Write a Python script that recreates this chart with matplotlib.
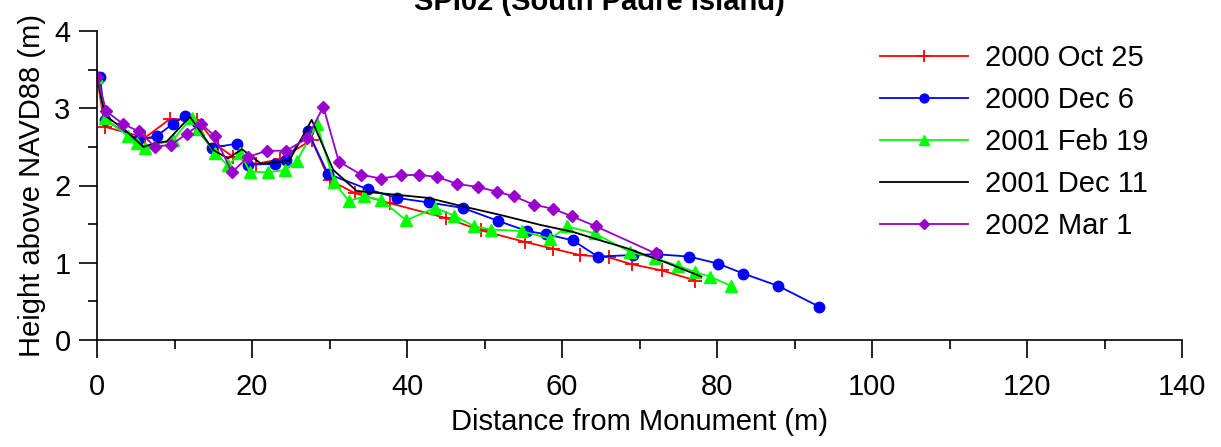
import matplotlib
matplotlib.use("Agg")
import matplotlib.pyplot as plt
from matplotlib.ticker import MultipleLocator

plt.rcParams['font.family'] = ['Liberation Sans', 'DejaVu Sans']

# perfis de praia (distancia, altura)
oct00_x = [0, 1.0, 6.2, 9.4, 12.9, 15.6, 17.6, 20.5, 23.6, 27.7, 30.0, 33.3, 37.8,
           45.0, 49.5, 55.2, 58.9, 62.3, 66.0, 69.0, 72.9, 77.2]
oct00_y = [3.40, 2.76, 2.62, 2.86, 2.85, 2.51, 2.37, 2.28, 2.34, 2.59, 2.07, 1.90, 1.77,
           1.58, 1.42, 1.27, 1.18, 1.10, 1.07, 0.98, 0.90, 0.77]

dec00_x = [0.4, 1.0, 5.3, 7.7, 9.8, 11.4, 14.8, 18.0, 19.5, 23.0, 24.4, 27.2, 29.8,
           35.0, 38.7, 42.8, 47.2, 51.8, 55.5, 57.9, 61.4, 64.6, 69.2, 72.2, 76.4,
           80.1, 83.4, 87.9, 93.2]
dec00_y = [3.40, 2.85, 2.59, 2.64, 2.80, 2.90, 2.49, 2.54, 2.27, 2.28, 2.33, 2.70, 2.15,
           1.95, 1.84, 1.78, 1.71, 1.54, 1.41, 1.37, 1.29, 1.08, 1.10, 1.11, 1.08,
           0.99, 0.86, 0.70, 0.43]

feb01_x = [0, 1.0, 4.0, 5.1, 6.2, 9.8, 12.2, 13.0, 15.2, 16.9, 18.5, 19.7, 22.1, 24.3,
           25.8, 28.4, 30.6, 32.5, 34.5, 36.7, 39.9, 43.6, 46.1, 48.7, 50.9, 54.9,
           58.5, 60.7, 64.2, 68.8, 72.0, 75.0, 77.2, 79.1, 81.8]
feb01_y = [3.40, 2.87, 2.64, 2.55, 2.49, 2.59, 2.88, 2.73, 2.42, 2.26, 2.42, 2.18, 2.17, 2.20,
           2.32, 2.79, 2.04, 1.80, 1.86, 1.81, 1.55, 1.71, 1.61, 1.47, 1.43, 1.41,
           1.31, 1.47, 1.38, 1.14, 1.06, 0.96, 0.88, 0.82, 0.70]

dec01_x = [0, 1.0, 3.6, 6.0, 7.5, 9.0, 12.0, 15.0, 16.9, 18.7, 21.2, 24.8, 27.7, 30.5,
           33.5, 42.7, 47.2, 52.0, 57.2, 61.4, 64.9, 68.3, 73.5, 78.0]
dec01_y = [3.41, 2.91, 2.72, 2.50, 2.55, 2.57, 2.89, 2.46, 2.35, 2.47, 2.28, 2.32, 2.85, 2.20,
           1.93, 1.84, 1.73, 1.62, 1.49, 1.40, 1.29, 1.19, 1.00, 0.82]

mar02_x = [0, 1.2, 3.3, 5.4, 7.5, 9.6, 11.6, 13.4, 15.2, 17.4, 19.5, 21.9, 24.4, 27.1,
           29.2, 31.2, 34.1, 36.6, 39.2, 41.5, 43.9, 46.5, 49.2, 51.6, 53.8, 56.4,
           58.8, 61.3, 64.4, 72.1]
mar02_y = [3.41, 2.96, 2.80, 2.70, 2.50, 2.53, 2.67, 2.80, 2.64, 2.17, 2.37, 2.45, 2.45, 2.61,
           3.02, 2.31, 2.14, 2.09, 2.13, 2.14, 2.11, 2.02, 1.98, 1.92, 1.86, 1.75,
           1.70, 1.60, 1.47, 1.12]

fs = 21

fig = plt.figure(figsize=(12.21, 4.47), dpi=100)
ax = fig.add_axes([97/1221, 107/447, 1085/1221, 309/447])

ax.plot(oct00_x, oct00_y, '-', color='#ff0000', lw=1.3, marker='+', ms=10, mew=1.3, label='2000 Oct 25')
ax.plot(dec00_x, dec00_y, '-', color='#0000ff', lw=1.3, marker='o', ms=7.5, label='2000 Dec 6')
ax.plot(feb01_x, feb01_y, '-', color='#00ff00', lw=1.3, marker='^', ms=8, label='2001 Feb 19')
ax.plot(dec01_x, dec01_y, '-', color='black', lw=1.3, label='2001 Dec 11')
ax.plot(mar02_x, mar02_y, '-', color='#9900cc', lw=1.3, marker='D', ms=6.5, label='2002 Mar 1')

ax.set_xlim(0, 140)
ax.set_ylim(0, 4)
ax.xaxis.set_major_locator(MultipleLocator(20))
ax.xaxis.set_minor_locator(MultipleLocator(10))
ax.yaxis.set_major_locator(MultipleLocator(1))
ax.yaxis.set_minor_locator(MultipleLocator(0.5))
ax.spines['top'].set_visible(False)
ax.spines['right'].set_visible(False)
for s in ['left', 'bottom']:
    ax.spines[s].set_linewidth(1.2)
ax.tick_params(which='major', direction='out', length=13, width=1.2, labelsize=fs)
ax.tick_params(which='minor', direction='out', length=6.5, width=1.2)
ax.tick_params(axis='x', which='major', pad=11)
ax.tick_params(axis='y', which='major', pad=6)

ax.set_xlabel('Distance from Monument (m)', fontsize=fs, labelpad=5)
ax.set_ylabel('Height above NAVD88 (m)', fontsize=fs, labelpad=6)

fig.text(0.491, 1 - 10/447, 'SPI02 (South Padre Island)', fontsize=fs, fontweight='bold',
         ha='center', va='baseline')

leg = ax.legend(loc='upper left', bbox_to_anchor=(880/1221, 1 - 44/447), bbox_transform=fig.transFigure,
                frameon=False, fontsize=fs, numpoints=1, handlelength=3.0, handletextpad=0.6,
                labelspacing=0.48, borderpad=0, borderaxespad=0, markerscale=0.85)

plt.savefig('out.png', dpi=100)
